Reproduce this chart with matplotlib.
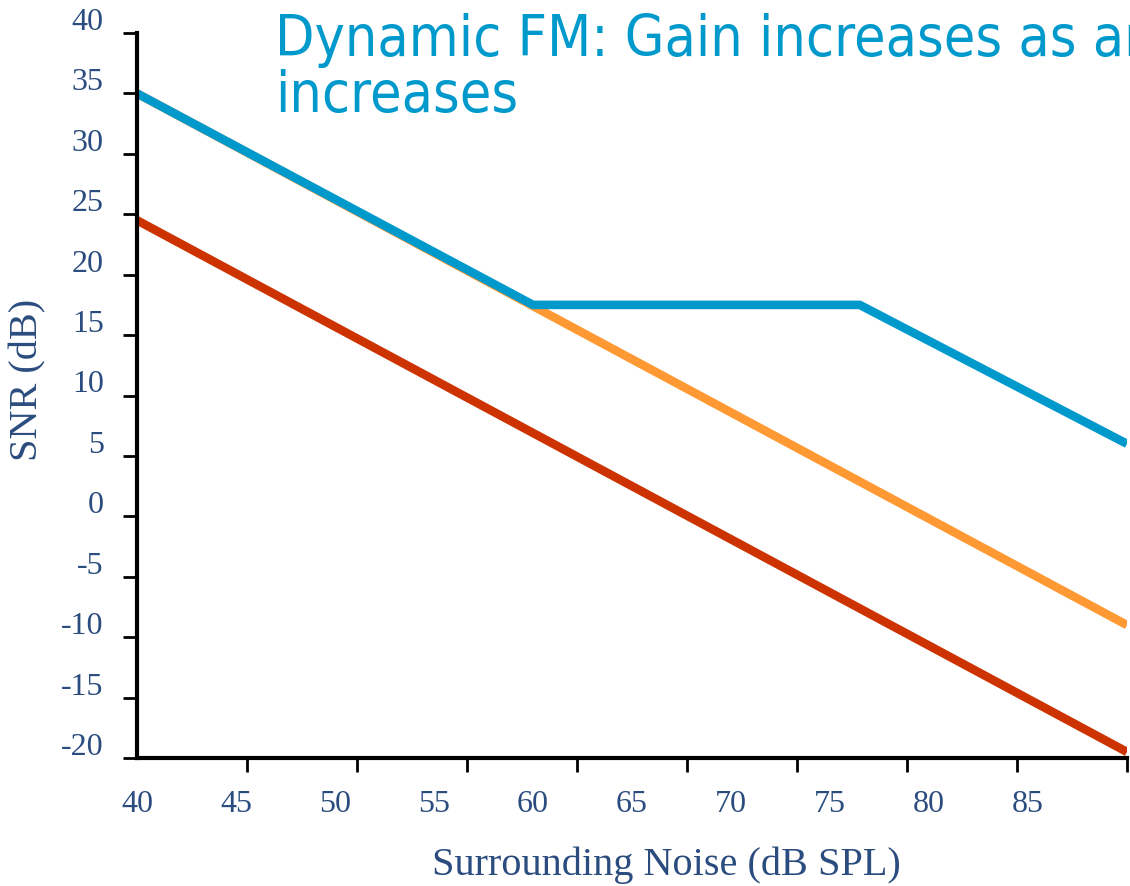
import numpy as np
import matplotlib
matplotlib.use("Agg")
import matplotlib.pyplot as plt
from matplotlib.transforms import ScaledTranslation

# data
noise_x = [40, 90]
orange_snr = [35, -9]
red_snr = [24.5, -19.5]
dyn_x = [40, 60, 76.5, 90]
dyn_snr = [35, 17.5, 17.5, 6]

x_labels = [40, 45, 50, 55, 60, 65, 70, 75, 80, 85]
y_ticks = [-20, -15, -10, -5, 0, 5, 10, 15, 20, 25, 30, 35, 40]

TXT = "#2B4C7E"
SERIF = ["Liberation Serif", "DejaVu Serif"]

fig = plt.figure(figsize=(11.3, 8.87), dpi=100)
ax = fig.add_axes([137 / 1130, 1 - 759 / 887, 990 / 1130, (759 - 34) / 887])

ax.plot(noise_x, red_snr, color="#CC3300", lw=6.2, solid_capstyle="butt")
ax.plot(noise_x, orange_snr, color="#FF9933", lw=6.2, solid_capstyle="butt")
ax.plot(dyn_x, dyn_snr, color="#0099CC", lw=6.2, solid_capstyle="butt",
        solid_joinstyle="miter")

ax.set_xlim(40, 90)
ax.set_ylim(-20, 40)

for s in ["top", "right"]:
    ax.spines[s].set_visible(False)
for s in ["left", "bottom"]:
    ax.spines[s].set_linewidth(3)

# tick marks on the x axis do not line up with the labels in the original
ax.set_xticks(np.linspace(40, 90, 10), minor=True)
ax.set_xticks(x_labels)
ax.set_xticklabels([str(v) for v in x_labels])
ax.tick_params(axis="x", which="minor", length=10, width=2, direction="out")
ax.tick_params(axis="x", which="major", length=0, pad=22)

ax.set_yticks(y_ticks)
ax.set_yticklabels([str(v) for v in y_ticks])
ax.tick_params(axis="y", length=10, width=2, direction="out", pad=14)

for lab in ax.get_xticklabels() + ax.get_yticklabels():
    lab.set_fontfamily(SERIF)
    lab.set_fontsize(23)
    lab.set_color(TXT)
shift = ScaledTranslation(0, 15 / 100, fig.dpi_scale_trans)
for lab in ax.get_yticklabels():
    lab.set_transform(lab.get_transform() + shift)

fig.text(28 / 1130, 1 - 380 / 887, "SNR (dB)", rotation=90, ha="center",
         va="center", fontsize=29, color=TXT, family=SERIF)
fig.text(666 / 1130, 1 - 865 / 887, "Surrounding Noise (dB SPL)", ha="center",
         va="center", fontsize=29, color=TXT, family=SERIF)

fig.text(275 / 1130, 1 - 112 / 887,
         "Dynamic FM: Gain increases as ambient noise\nincreases",
         ha="left", va="baseline", fontsize=41, color="#0099CC",
         family="DejaVu Sans", stretch="condensed", linespacing=1.03)

fig.savefig("out.png", dpi=100)
